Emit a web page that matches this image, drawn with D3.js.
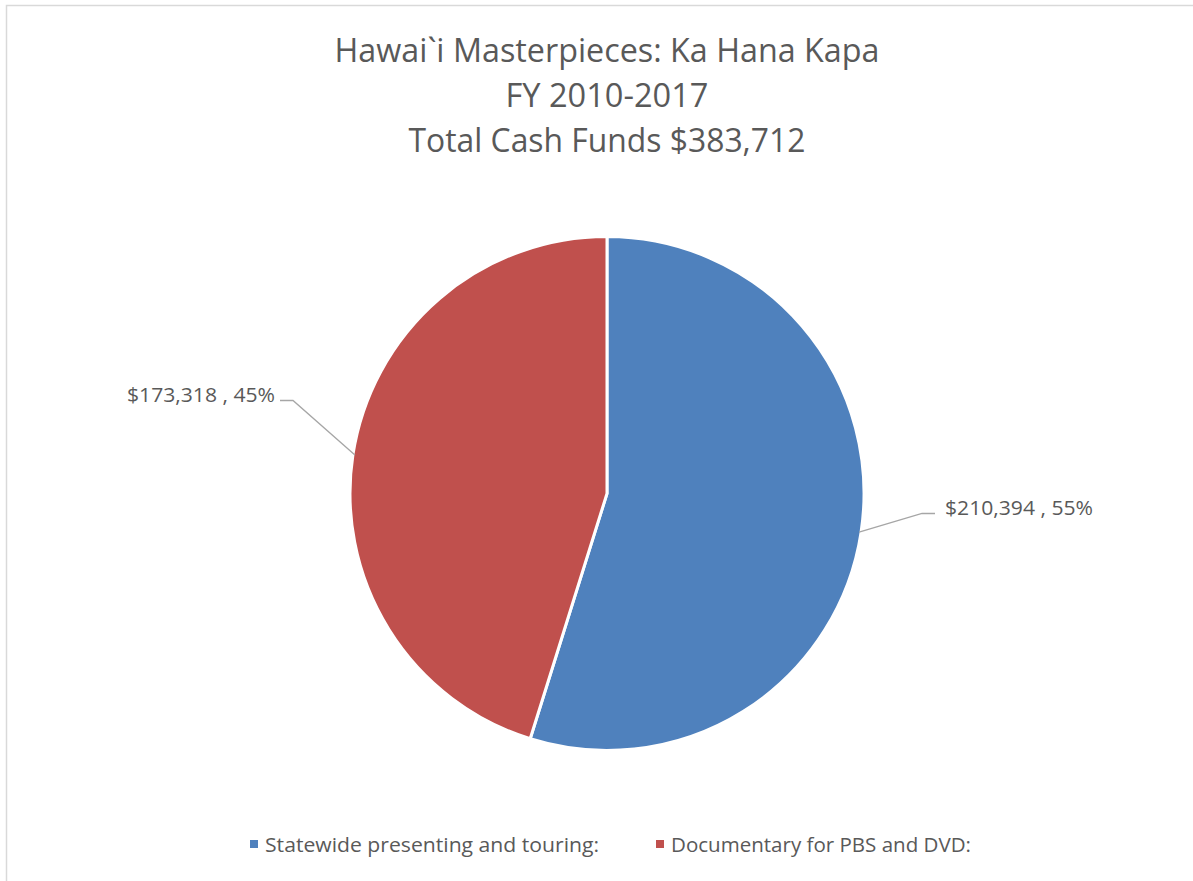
<!DOCTYPE html>
<html lang="en">
<head>
<meta charset="UTF-8">
<title>Ka Hana Kapa - cash funds</title>
<script src="https://d3js.org/d3.v7.min.js"></script>
<style>
    body { margin: 0; background: #fff; }
    svg text { font-family: "Open Sans", sans-serif; fill: #595959; }
</style>
</head>
<body>
<svg id="chart" width="1193" height="881"></svg>
<script>
    // data
    const titleLines = ["Hawai`i Masterpieces: Ka Hana Kapa", "FY 2010-2017", "Total Cash Funds $383,712"];
    const categories = ["Statewide presenting and touring:", "Documentary for PBS and DVD:"];
    const values = [210394, 173318];
    const colors = ["#4f81bd", "#c0504d"];

    const svg = d3.select("#chart");
    const cx = 607, cy = 493.5, r = 257;

    // chart area border (right/bottom edges are cut off in the picture)
    svg.append("rect")
        .attr("x", 6.5).attr("y", 5.5)
        .attr("width", 1300).attr("height", 1000)
        .attr("fill", "none")
        .attr("stroke", "#d9d9d9")
        .attr("stroke-width", 1.5);

    // title
    const titleWidths = [545, 203, 397];
    svg.append("g").selectAll("text")
        .data(titleLines)
        .join("text")
        .attr("x", cx)
        .attr("y", (d, i) => 62 + i * 45)
        .attr("text-anchor", "middle")
        .attr("font-size", 33)
        .attr("textLength", (d, i) => titleWidths[i])
        .attr("lengthAdjust", "spacingAndGlyphs")
        .text(d => d);

    // pie
    const total = d3.sum(values);
    const pie = d3.pie().sort(null).value(d => d)(values);
    const arc = d3.arc().innerRadius(0).outerRadius(r);
    const color = d3.scaleOrdinal().domain(categories).range(colors);

    const g = svg.append("g").attr("transform", `translate(${cx},${cy})`);
    g.selectAll("path.slice")
        .data(pie)
        .join("path")
        .attr("class", "slice")
        .attr("d", arc)
        .attr("fill", (d, i) => color(categories[i]))
        .attr("stroke", "#fff")
        .attr("stroke-width", 3);

    // data labels with leader lines
    const fmt = d3.format(",");
    const pct = d3.format(".0%");
    // elbow offsets (relative to centre) as placed in the original
    const elbows = [[315, 20], [-314, -93]];
    const gaps = [10, 5];
    pie.forEach((d, i) => {
        const a = (d.startAngle + d.endAngle) / 2;
        const p0 = [Math.sin(a) * (r - 2), -Math.cos(a) * (r - 2)];
        const side = Math.sin(a) > 0 ? 1 : -1;
        const e = elbows[i];
        const p2 = [e[0] + side * 13, e[1]];
        g.append("polyline")
            .attr("points", [p0, e, p2].map(p => p.join(",")).join(" "))
            .attr("fill", "none")
            .attr("stroke", "#a6a6a6")
            .attr("stroke-width", 1.3);
        g.append("text")
            .attr("x", p2[0] + side * gaps[i])
            .attr("y", e[1] + 1)
            .attr("text-anchor", side > 0 ? "start" : "end")
            .attr("font-size", 20)
            .attr("textLength", 148)
            .attr("lengthAdjust", "spacingAndGlyphs")
            .text(`$${fmt(d.data)} , ${pct(d.data / total)}`);
    });

    // legend
    const legendX = [250, 656];
    const legendW = [334, 300];
    const leg = svg.append("g").selectAll("g")
        .data(categories)
        .join("g")
        .attr("transform", (d, i) => `translate(${legendX[i]},852)`);
    leg.append("rect")
        .attr("x", 0).attr("y", -12)
        .attr("width", 8).attr("height", 8)
        .attr("fill", d => color(d));
    leg.append("text")
        .attr("x", 15)
        .attr("y", 0)
        .attr("font-size", 19.5)
        .attr("textLength", (d, i) => legendW[i])
        .attr("lengthAdjust", "spacingAndGlyphs")
        .text(d => d);
</script>
</body>
</html>
